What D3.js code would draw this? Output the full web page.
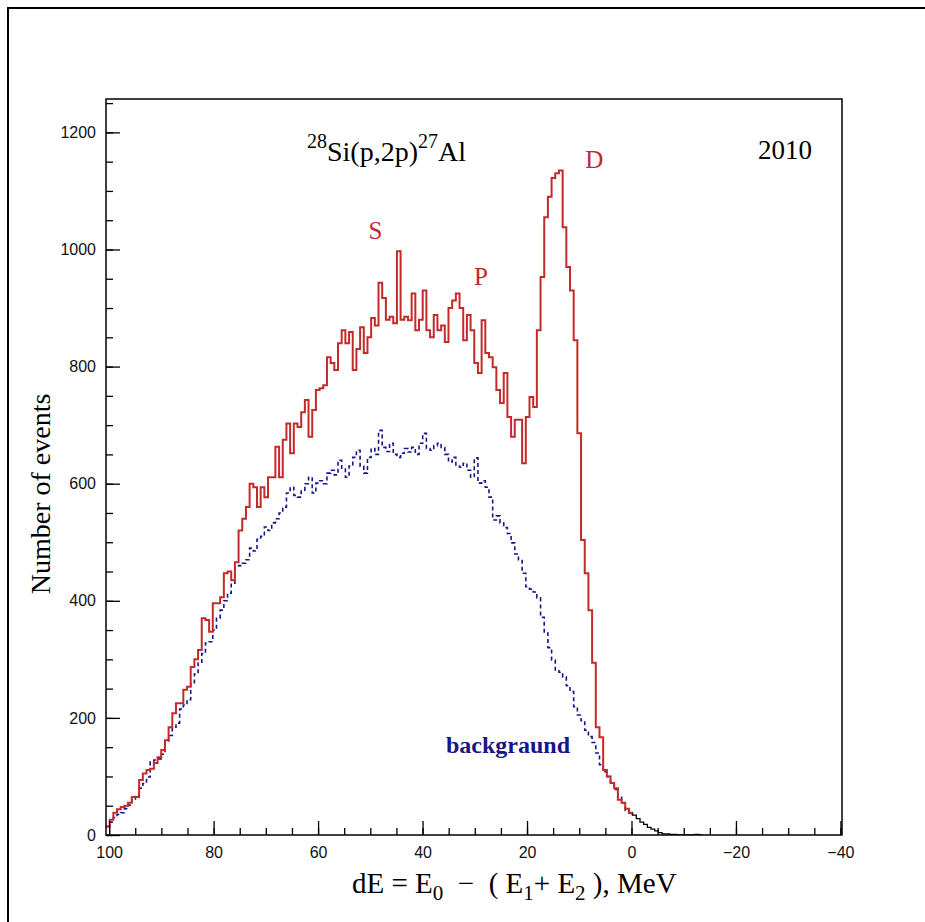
<!DOCTYPE html>
<html>
<head>
<meta charset="utf-8">
<script src="https://cdn.jsdelivr.net/npm/d3@7"></script>
<style>
body{margin:0;background:#fff;}
svg{display:block;}
</style>
</head>
<body>
<svg id="chart" width="925" height="922"></svg>
<script>
// ---- data (1 bin = 0.705 MeV, first bin starts at dE = 100.6 MeV, going down) ----
const binStart = 100.6;
const binWidth = 0.705;

// 28Si(p,2p)27Al events (red)
const signalCounts = [
  14,26,38,44,48,50,55,65,65,94,
  105,111,113,123,133,145,162,184,208,225,
  225,248,253,287,300,316,370,367,347,396,
  396,406,447,450,435,466,520,540,560,600,
  594,560,594,577,611,611,663,611,675,703,
  652,703,697,722,743,680,726,760,763,768,
  816,806,794,840,862,840,859,794,830,867,
  823,850,883,870,943,917,880,885,874,997,
  880,885,879,925,862,880,930,862,850,888,
  862,870,842,900,913,925,900,845,888,862,
  806,789,879,823,816,799,760,738,789,714,
  680,709,709,635,714,748,731,862,953,1055,
  1090,1122,1130,1135,1038,970,930,845,686,504,
  447,384,294,184,167,111,100,89,80,60,
  55,45,38
];

// background (blue dashed)
const backgroundCounts = [
  15,22,30,35,38,45,51,60,68,80,
  88,99,125,128,130,138,159,170,184,191,
  215,222,231,260,275,295,310,328,330,350,
  370,384,400,413,430,458,460,464,470,490,
  485,505,510,526,520,533,540,550,560,584,
  594,580,577,589,600,611,584,601,605,600,
  618,623,615,640,625,611,630,645,657,630,
  618,645,660,650,691,662,655,669,650,645,
  652,660,654,662,650,669,686,660,657,665,
  669,662,650,637,645,632,628,635,623,611,
  644,601,605,594,577,538,545,533,525,515,
  499,480,470,447,424,420,415,405,372,345,
  320,299,282,278,270,255,245,219,205,195,
  179,168,158,140,120,108,100,90,78,66,
  55,42,35
];

// tail beyond the red histogram (black), starting at bin index tailStartBin
const tailStartBin = 142;
const tailCounts = [38,34,28,22,18,13,10,7,4,2,2,1,1,0,0,0,0,0,1,0];

const xTickValues = [100,80,60,40,20,0,-20,-40];
const yTickValues = [0,200,400,600,800,1000,1200];
const peakLabels = ["S","P","D"];
const peakEnergies = [49.0, 28.8, 7.1];
const peakCounts = [1018, 939, 1140];

// ---- drawing ----
const svg = d3.select("#chart");
const W = 925, H = 922;
const plot = {left:106, right:842, top:99, bottom:835};

const x = d3.scaleLinear().domain([100.6, -40.3]).range([plot.left, plot.right]);
const y = d3.scaleLinear().domain([0, 1257]).range([plot.bottom, plot.top]);

// outer frame
svg.append("rect").attr("x",8).attr("y",8).attr("width",W).attr("height",H)
  .attr("fill","#fff").attr("stroke","#000").attr("stroke-width",2);

function stepPoints(counts, startIndex){
  const pts = [];
  counts.forEach((v,k)=>{
    const i = startIndex + k;
    const e0 = binStart - i*binWidth, e1 = binStart - (i+1)*binWidth;
    pts.push([e0, v]); pts.push([e1, v]);
  });
  return pts;
}
const line = d3.line().x(d=>x(d[0])).y(d=>y(d[1]));

svg.append("clipPath").attr("id","clip").append("rect")
  .attr("x",plot.left).attr("y",plot.top).attr("width",plot.right-plot.left).attr("height",plot.bottom-plot.top);
const g = svg.append("g").attr("clip-path","url(#clip)");

// background dashed
g.append("path").attr("d", line(stepPoints(backgroundCounts,0)))
  .attr("fill","none").attr("stroke","#16168a").attr("stroke-width",1.6)
  .attr("stroke-dasharray","4,3");

// black tail
g.append("path").attr("d", line(stepPoints(tailCounts,tailStartBin)))
  .attr("fill","none").attr("stroke","#000").attr("stroke-width",1.3);

// red signal
g.append("path").attr("d", line(stepPoints(signalCounts,0)))
  .attr("fill","none").attr("stroke","#c42a2a").attr("stroke-width",2);

// axes
const tickFont = "'Liberation Sans', Arial, sans-serif";
const yMinor = d3.range(0, 1251, 50);
svg.append("g").attr("transform",`translate(${plot.left},0)`)
  .call(d3.axisLeft(y).tickValues(yMinor).tickSize(-7).tickFormat("").tickSizeOuter(0))
  .call(s=>s.select(".domain").remove());
const yAx = svg.append("g").attr("transform",`translate(${plot.left},0)`)
  .call(d3.axisLeft(y).tickValues(yTickValues).tickSize(-14).tickPadding(10)
    .tickFormat(d3.format("d")).tickSizeOuter(0));
yAx.select(".domain").remove();
yAx.selectAll("text").attr("font-family",tickFont).attr("font-size",16).attr("fill","#111");

const xMinor = d3.range(100, -41, -5);
svg.append("g").attr("transform",`translate(0,${plot.bottom})`)
  .call(d3.axisBottom(x).tickValues(xMinor).tickSize(-7).tickFormat("").tickSizeOuter(0))
  .call(s=>s.select(".domain").remove());
const xAx = svg.append("g").attr("transform",`translate(0,${plot.bottom})`)
  .call(d3.axisBottom(x).tickValues(xTickValues).tickSize(-14).tickPadding(12).tickSizeOuter(0));
xAx.select(".domain").remove();
xAx.selectAll("text").attr("font-family",tickFont).attr("font-size",16).attr("fill","#111");
svg.selectAll(".tick line").attr("stroke","#000").attr("stroke-width",1.3);

// plot frame
svg.append("rect").attr("x",plot.left).attr("y",plot.top)
  .attr("width",plot.right-plot.left).attr("height",plot.bottom-plot.top)
  .attr("fill","none").attr("stroke","#000").attr("stroke-width",1.5);

const serif = "'Liberation Serif', 'Times New Roman', serif";

// title
const t = svg.append("text").attr("x",307).attr("y",161).attr("font-family",serif)
  .attr("font-size",28).attr("fill","#000");
t.append("tspan").attr("font-size",20).attr("dy",-13).text("28");
t.append("tspan").attr("dy",13).text("Si(p,2p)");
t.append("tspan").attr("font-size",20).attr("dy",-13).text("27");
t.append("tspan").attr("dy",13).text("Al");

svg.append("text").attr("x",812).attr("y",159).attr("text-anchor","end")
  .attr("font-family",serif).attr("font-size",27).attr("fill","#000").text("2010");

// peak labels
svg.selectAll("text.peak").data(peakLabels).enter().append("text")
  .attr("class","peak")
  .attr("x",(d,i)=>x(peakEnergies[i])).attr("y",(d,i)=>y(peakCounts[i]))
  .attr("text-anchor","middle").attr("font-family",serif).attr("font-size",25)
  .attr("fill","#c42a2a").text(d=>d);

// background label
svg.append("text").attr("x",446).attr("y",753).attr("font-family",serif)
  .attr("font-size",24).attr("font-weight","bold").attr("fill","#16168a").text("backgraund");

// y axis title
svg.append("text").attr("transform","translate(50,494) rotate(-90)")
  .attr("text-anchor","middle").attr("font-family",serif).attr("font-size",28)
  .attr("fill","#000").text("Number of events");

// x axis title
const xt = svg.append("text").attr("x",352).attr("y",893).attr("font-family",serif)
  .attr("font-size",29).attr("fill","#000").style("white-space","pre");
xt.append("tspan").text("dE = E");
xt.append("tspan").attr("font-size",21).attr("dy",7).text("0");
xt.append("tspan").attr("dy",-7).text("  \u2212  ( E");
xt.append("tspan").attr("font-size",21).attr("dy",7).text("1");
xt.append("tspan").attr("dy",-7).text("+ E");
xt.append("tspan").attr("font-size",21).attr("dy",7).text("2");
xt.append("tspan").attr("dy",-7).text(" ), MeV");
</script>
</body>
</html>
